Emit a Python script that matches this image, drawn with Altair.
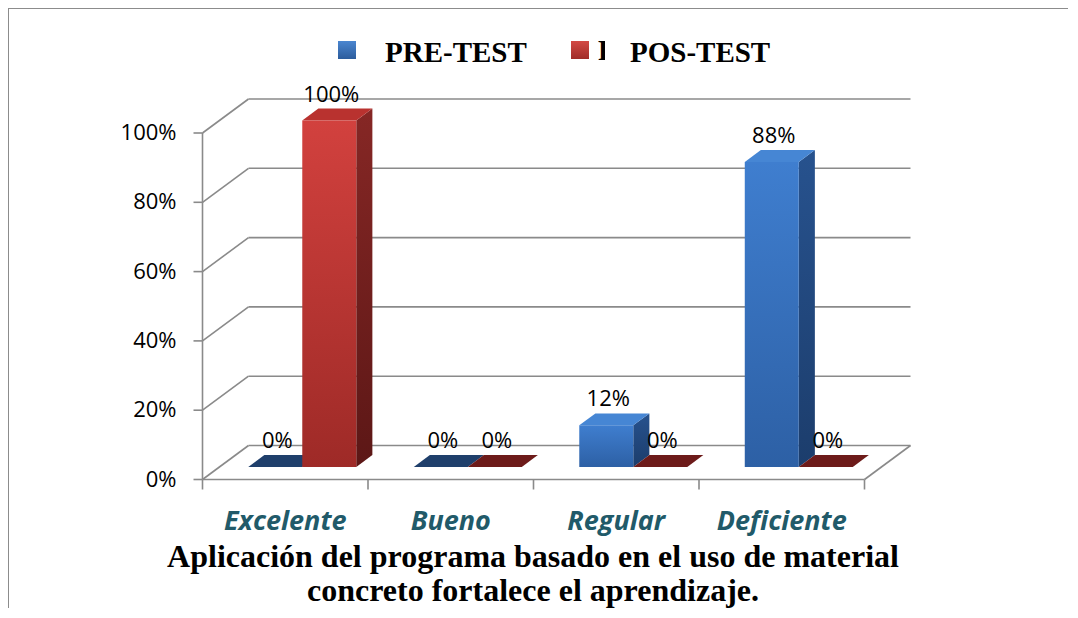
import altair as alt
import pandas as pd

# ---------------- data ----------------
categories = ["Excelente", "Bueno", "Regular", "Deficiente"]
series = ["PRE-TEST", "POS-TEST"]
pre_test = [0, 0, 12, 88]
pos_test = [100, 0, 0, 0]
y_ticks = [0, 20, 40, 60, 80, 100]
title_lines = ["Aplicación del programa basado en el uso de material",
               "concreto fortalece el aprendizaje."]

# ---------------- geometry / style ----------------
W, H = 1060, 600
CAT_PX = 165.5      # pixels per category
PCT_PX = 3.465      # pixels per percent
X0_PX = 194.5       # plot X of the front-left corner
Y0_PX = 471.5       # plot Y of 0 %
DX = 46 / CAT_PX    # depth shift in x (category units)
DY = 34 / PCT_PX    # depth shift in y (percent units)
D0, D1 = 0.37, 0.72 # bar depth front/back
BAR_W = 54 / CAT_PX

XS = alt.Scale(domain=[-X0_PX / CAT_PX, (W - X0_PX) / CAT_PX], nice=False, zero=False)
YS = alt.Scale(domain=[(Y0_PX - H) / PCT_PX, Y0_PX / PCT_PX], nice=False, zero=False)

GRID = "#8a8a8a"
LABEL_FONT = "Open Sans"
SERIF = "Liberation Serif"

styles = {
    "PRE-TEST": dict(front=("#3f7ecf", "#2d60a5"), side=("#27528e", "#1c3d6c"),
                     top="#4686d4", flat="#1f3f6b", key=("#4a86d0", "#2c5c9c")),
    "POS-TEST": dict(front=("#d2413e", "#9e2a27"), side=("#862725", "#5c1716"),
                     top="#b9322f", flat="#6d1b1a", key=("#d34a45", "#a02c28")),
}


def X(f="x"):
    return alt.X(f"{f}:Q", scale=XS, axis=None)


def Y(f="y"):
    return alt.Y(f"{f}:Q", scale=YS, axis=None, stack=None)


def vgrad(c0, c1):
    return alt.Gradient(gradient="linear",
                        stops=[alt.GradientStop(color=c0, offset=0),
                               alt.GradientStop(color=c1, offset=1)],
                        x1=0, x2=0, y1=0, y2=1)


n = len(categories)
one = pd.DataFrame({"a": [0]})

# ---------------- frame ----------------
frame_left = alt.Chart(one).mark_rule(color="#8c8c8c", strokeWidth=2).encode(
    x=alt.value(0), y=alt.value(0), y2=alt.value(H))
frame_top = alt.Chart(one).mark_rule(color="#8c8c8c", strokeWidth=2).encode(
    y=alt.value(0), x=alt.value(0), x2=alt.value(W))

# ---------------- walls, grid ----------------
grid_df = pd.DataFrame({"x": [DX] * len(y_ticks), "x2": [n + DX] * len(y_ticks),
                        "y": [t + DY for t in y_ticks]})
grid = alt.Chart(grid_df).mark_rule(color=GRID, strokeWidth=1.6).encode(
    x=X(), x2=alt.X2("x2:Q"), y=Y())

wall_df = pd.DataFrame({"x": [0.0] * len(y_ticks), "x2": [DX] * len(y_ticks),
                        "y": y_ticks, "y2": [t + DY for t in y_ticks]})
walls = alt.Chart(wall_df).mark_rule(color=GRID, strokeWidth=1.6).encode(
    x=X(), x2=alt.X2("x2:Q"), y=Y(), y2=alt.Y2("y2:Q"))

edges_df = pd.DataFrame({
    "x": [0.0, 0.0, float(n)],
    "x2": [0.0, float(n), n + DX],
    "y": [0.0, 0.0, 0.0],
    "y2": [float(max(y_ticks)), 0.0, DY],
})
edges = alt.Chart(edges_df).mark_rule(color=GRID, strokeWidth=1.6).encode(
    x=X(), x2=alt.X2("x2:Q"), y=Y(), y2=alt.Y2("y2:Q"))

ytick_df = pd.DataFrame({"x": [0.0] * len(y_ticks), "y": y_ticks,
                         "lab": [f"{t}%" for t in y_ticks]})
yticks = alt.Chart(ytick_df).mark_rule(color=GRID, strokeWidth=1.6, x2Offset=-9).encode(
    x=X(), x2=alt.X2("x:Q"), y=Y())
ylabels = alt.Chart(ytick_df).mark_text(align="right", baseline="middle", dx=-26,
                                        font=LABEL_FONT, fontSize=22, color="#000000").encode(
    x=X(), y=Y(), text="lab:N")

xtick_df = pd.DataFrame({"x": [float(i) for i in range(n + 1)], "y": [0.0] * (n + 1)})
xticks = alt.Chart(xtick_df).mark_rule(color=GRID, strokeWidth=1.6, y2Offset=10).encode(
    x=X(), y=Y(), y2=alt.Y2("y:Q"))

cat_df = pd.DataFrame({"x": [i + 0.5 for i in range(n)], "y": [0.0] * n, "cat": categories})
cat_labels = alt.Chart(cat_df).mark_text(
    baseline="middle", dy=42, font=LABEL_FONT, fontSize=27, fontStyle="italic",
    fontWeight="bold", color="#215a69").encode(x=X(), y=Y(), text="cat:N")

# ---------------- bars ----------------
values = {"PRE-TEST": pre_test, "POS-TEST": pos_test}
bar_layers = []
label_rows = []
for s_idx, s in enumerate(series):
    st = styles[s]
    fronts, sides, tops = [], [], []
    for i, cat in enumerate(categories):
        v = values[s][i]
        c = i + 0.5 + D0 * DX
        xl = c - BAR_W if s_idx == 0 else c
        xr = xl + BAR_W
        ddx = (D1 - D0) * DX
        ybf, ytf = D0 * DY, v + D0 * DY
        ybb, ytb = D1 * DY, v + D1 * DY
        g = f"{s}-{i}"
        if v > 0:
            fronts.append({"x": xl, "x2": xr, "y": ybf, "y2": ytf})
            sides += [{"g": g, "x": xr, "y": ytf, "y2": ybf},
                      {"g": g, "x": xr + ddx, "y": ytb, "y2": ybb}]
        tops += [{"g": g, "v": v, "x": xl, "y": ytf, "y2": ytf},
                 {"g": g, "v": v, "x": xl + ddx, "y": ytb, "y2": ytf},
                 {"g": g, "v": v, "x": xr, "y": ytb, "y2": ytf},
                 {"g": g, "v": v, "x": xr + ddx, "y": ytb, "y2": ytb}]
        label_rows.append({"x": (xl + xr) / 2, "y": ytb, "lab": f"{v}%"})
    if sides:
        bar_layers.append(
            alt.Chart(pd.DataFrame(sides)).mark_area(
                orient="vertical", fill=vgrad(*st["side"]), strokeWidth=0).encode(
                x=X(), y=Y(), y2=alt.Y2("y2:Q"), detail="g:N"))
    bar_layers.append(
        alt.Chart(pd.DataFrame(tops)).mark_area(orient="vertical", strokeWidth=0).encode(
            x=X(), y=Y(), y2=alt.Y2("y2:Q"), detail="g:N",
            color=alt.condition("datum.v == 0", alt.value(st["flat"]), alt.value(st["top"]))))
    if fronts:
        bar_layers.append(
            alt.Chart(pd.DataFrame(fronts)).mark_rect(fill=vgrad(*st["front"]), strokeWidth=0).encode(
                x=X(), x2=alt.X2("x2:Q"), y=Y(), y2=alt.Y2("y2:Q")))

data_labels = alt.Chart(pd.DataFrame(label_rows)).mark_text(
    baseline="middle", dy=-14, dx=2, font=LABEL_FONT, fontSize=22, color="#000000").encode(
    x=X(), y=Y(), text="lab:N")

# ---------------- legend (drawn by hand, as in the original) ----------------
key_x = {"PRE-TEST": 330, "POS-TEST": 563}
label_x = {"PRE-TEST": 377, "POS-TEST": 622}
legend_layers = []
for s in series:
    legend_layers.append(
        alt.Chart(one).mark_rect(fill=vgrad(*styles[s]["key"]), strokeWidth=0).encode(
            x=alt.value(key_x[s]), x2=alt.value(key_x[s] + 18),
            y=alt.value(33), y2=alt.value(51)))
    legend_layers.append(
        alt.Chart(one).mark_text(font=SERIF, fontSize=29, fontWeight="bold", align="left",
                                 baseline="alphabetic", color="#000000").encode(
            x=alt.value(label_x[s]), y=alt.value(54), text=alt.value(s)))

# clipped glyph remnant next to the red legend key
stub = alt.Chart(one).mark_text(text="P", font=SERIF, fontSize=29, fontWeight="bold",
                                align="left", baseline="alphabetic", color="#000000").encode(
    x=alt.value(590), y=alt.value(52))
stub_mask = alt.Chart(one).mark_rect(color="white").encode(
    x=alt.value(597), x2=alt.value(619), y=alt.value(25), y2=alt.value(65))

# ---------------- title ----------------
title = alt.Chart(one).mark_text(
    font=SERIF, fontSize=32, fontWeight="bold", align="center", baseline="alphabetic",
    lineHeight=34, color="#000000").encode(
    x=alt.value(525), y=alt.value(559), text=alt.value(title_lines))

chart = alt.layer(
    frame_left, frame_top, grid, walls, edges, yticks, xticks,
    *bar_layers, data_labels, ylabels, cat_labels,
    stub, stub_mask, *legend_layers, title,
).properties(
    width=W, height=H, padding=0, autosize=alt.AutoSizeParams(type="none"),
    background="white",
).configure_view(stroke=None)

chart.save("out.html", embed_options={"renderer": "svg", "actions": False})
